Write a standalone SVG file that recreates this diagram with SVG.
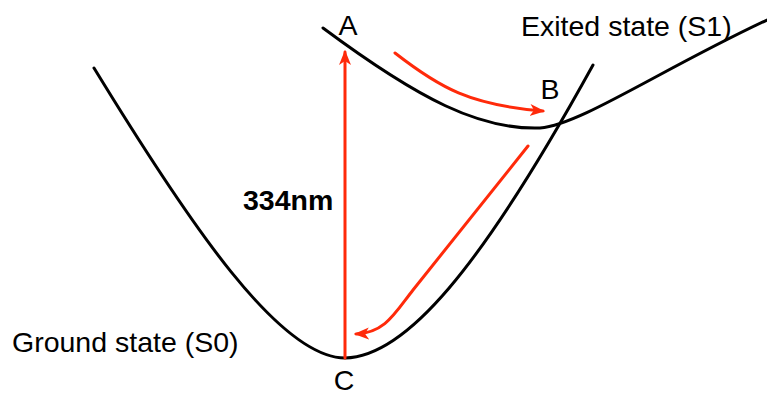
<svg xmlns="http://www.w3.org/2000/svg" width="767" height="395" viewBox="0 0 767 395">
<style>
.curve{fill:none;stroke:#000;stroke-width:3;stroke-linecap:round}
.red{fill:none;stroke:#ff2a0a;stroke-width:3;stroke-linecap:round}
.t{font-family:"Liberation Sans",Arial,sans-serif;font-size:28.5px;fill:#000}
.b{font-weight:bold}
</style>
<defs>
<marker id="ah" markerUnits="userSpaceOnUse" markerWidth="16" markerHeight="14" refX="13" refY="7" orient="auto" viewBox="0 0 16 14">
<path d="M0,1 L15,7 L0,13 L4,7 z" fill="#ff2a0a"/>
</marker>
</defs>
<rect width="767" height="395" fill="#fff"/>
<g id="ground-curve">
<path class="curve" d="M94,68 C190,225 280,358 345,358 C405,357 480,270 593,65"/>
</g>
<g id="excited-curve">
<path class="curve" d="M323,28 C420,100 480,130 540,128 C580,125 660,70 767,20"/>
</g>
<g id="connectors">
<path class="red" d="M345,358 L345,52" marker-end="url(#ah)"/>
<path class="red" d="M395,53 C440,88 470,105 543,111" marker-end="url(#ah)"/>
<path class="red" d="M528,146 L413,290 C395,313 385,333 356,334" marker-end="url(#ah)"/>
</g>
<g id="label-A"><text class="t" x="348" y="35" text-anchor="middle">A</text></g>
<g id="label-B"><text class="t" x="550" y="99" text-anchor="middle">B</text></g>
<g id="label-C"><text class="t" x="344" y="390" text-anchor="middle">C</text></g>
<g id="label-excited"><text class="t" x="521" y="36">Exited state (S1)</text></g>
<g id="label-ground"><text class="t" x="12" y="352">Ground state (S0)</text></g>
<g id="label-334"><text class="t b" x="243" y="210">334nm</text></g>
</svg>
